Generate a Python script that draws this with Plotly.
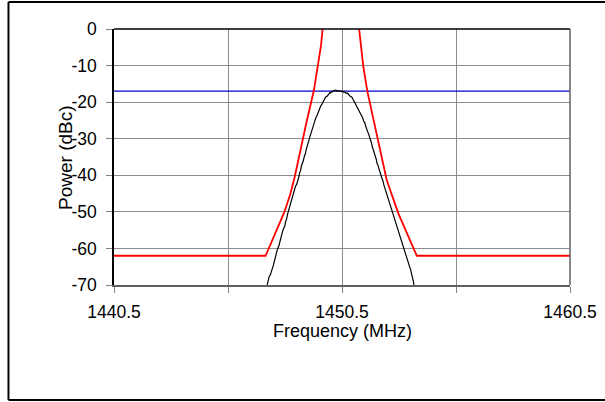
import plotly.graph_objects as go

# Spectrum measurement (MHz, dBc)
spec_freq = [
    1447.20, 1447.24, 1447.27, 1447.31, 1447.35, 1447.40, 1447.44, 1447.49, 1447.53, 1447.57,
    1447.61, 1447.65, 1447.70, 1447.74, 1447.78, 1447.82, 1447.86, 1447.90, 1447.95, 1447.99,
    1448.03, 1448.07, 1448.11, 1448.16, 1448.20, 1448.24, 1448.29, 1448.33, 1448.37, 1448.42,
    1448.46, 1448.51, 1448.55, 1448.60, 1448.64, 1448.68, 1448.72, 1448.76, 1448.80, 1448.85,
    1448.89, 1448.93, 1448.97, 1449.01, 1449.06, 1449.10, 1449.14, 1449.18, 1449.22, 1449.27,
    1449.31, 1449.35, 1449.40, 1449.44, 1449.48, 1449.53, 1449.57, 1449.61, 1449.66, 1449.70,
    1449.74, 1449.78, 1449.83, 1449.87, 1449.91, 1449.96, 1450.00, 1450.05, 1450.09, 1450.14,
    1450.19, 1450.23, 1450.28, 1450.33, 1450.38, 1450.43, 1450.48, 1450.53, 1450.58, 1450.63,
    1450.68, 1450.73, 1450.78, 1450.83, 1450.88, 1450.93, 1450.98, 1451.03, 1451.07, 1451.11,
    1451.15, 1451.20, 1451.24, 1451.28, 1451.33, 1451.37, 1451.41, 1451.45, 1451.50, 1451.54,
    1451.58, 1451.62, 1451.66, 1451.71, 1451.75, 1451.79, 1451.83, 1451.87, 1451.91, 1451.96,
    1452.00, 1452.04, 1452.08, 1452.13, 1452.17, 1452.21, 1452.25, 1452.29, 1452.34, 1452.38,
    1452.42, 1452.46, 1452.51, 1452.55, 1452.60, 1452.64, 1452.68, 1452.73, 1452.77, 1452.82,
    1452.86, 1452.90, 1452.94, 1452.99, 1453.03, 1453.07, 1453.11, 1453.16, 1453.20, 1453.24,
    1453.28, 1453.33, 1453.37, 1453.41, 1453.46, 1453.50, 1453.55, 1453.59, 1453.62, 1453.64,
    1453.66,
]
spec_power = [
    -70.5, -69.0, -68.4, -67.6, -67.3, -66.0, -65.6, -64.6, -63.4, -62.9,
    -61.5, -60.6, -59.7, -59.2, -58.1, -57.0, -56.6, -55.2, -54.4, -53.9,
    -52.6, -52.0, -50.7, -49.6, -49.1, -47.6, -46.9, -45.7, -44.9, -44.1,
    -43.0, -42.5, -41.2, -40.6, -39.4, -38.8, -37.4, -36.9, -36.1, -34.8,
    -34.2, -33.0, -32.3, -31.4, -30.2, -29.3, -28.5, -27.4, -26.9, -25.7,
    -25.1, -24.3, -23.7, -23.0, -22.2, -21.8, -21.0, -20.7, -20.0, -19.4,
    -19.2, -18.6, -18.5, -18.0, -17.9, -17.4, -17.5, -17.1, -17.2, -16.8,
    -16.9, -16.7, -17.0, -16.8, -17.0, -16.9, -17.1, -17.0, -17.3, -17.2,
    -17.6, -17.5, -17.9, -18.0, -18.5, -18.6, -19.2, -19.5, -20.0, -20.6,
    -21.0, -21.5, -22.0, -22.5, -23.4, -23.8, -24.3, -25.2, -25.6, -26.6,
    -27.1, -28.0, -28.6, -29.4, -30.5, -31.1, -32.2, -32.9, -34.0, -34.8,
    -35.6, -36.8, -37.3, -38.4, -39.0, -40.0, -40.8, -41.4, -42.7, -43.5,
    -44.4, -45.5, -46.2, -47.3, -48.0, -48.9, -49.8, -50.6, -51.5, -52.1,
    -53.3, -54.0, -54.9, -55.9, -56.5, -57.6, -58.4, -59.1, -60.2, -60.9,
    -61.9, -62.8, -63.3, -64.2, -64.9, -65.6, -66.8, -67.4, -68.5, -69.3,
    -70.5,
]

# Spectral mask (MHz, dBc)
mask_freq = [1440.5, 1447.15, 1447.97, 1448.22, 1448.42, 1448.66, 1448.95, 1449.27,
             1449.46, 1449.58, 1449.65, 1449.72,
             1451.18, 1451.25, 1451.33, 1451.43, 1451.61, 1452.02, 1452.31, 1452.46,
             1452.97, 1453.34, 1453.64, 1453.78, 1460.5]
mask_power = [-62, -62, -50.1, -45.4, -40.6, -33.5, -25.3, -16.7,
              -9.8, -4.5, 0, 4,
              4, 0, -5.0, -10, -17, -29, -37.2, -41.3,
              -50.4, -55.8, -60.1, -62, -62]

# Reference level
ref_freq = [1440.5, 1460.5]
ref_power = [-17, -17]

x_ticks = [1440.5, 1450.5, 1460.5]
x_tick_labels = ["1440.5", "1450.5", "1460.5"]
y_ticks = [0, -10, -20, -30, -40, -50, -60, -70]
y_tick_labels = ["0", "-10", "-20", "-30", "-40", "-50", "-60", "-70"]

FONT = "Liberation Sans, Arial, sans-serif"
FS = 17.5

fig = go.Figure()
fig.add_trace(go.Scatter(x=ref_freq, y=ref_power, mode="lines",
                         line=dict(color="#0000C8", width=1.3), showlegend=False))
fig.add_trace(go.Scatter(x=spec_freq, y=spec_power, mode="lines",
                         line=dict(color="#000000", width=1.2), showlegend=False))
fig.add_trace(go.Scatter(x=mask_freq, y=mask_power, mode="lines",
                         line=dict(color="#FF0000", width=1.8), showlegend=False))

fig.update_layout(
    width=605, height=402,
    margin=dict(l=114, r=35, t=29, b=117, autoexpand=False),
    paper_bgcolor="white", plot_bgcolor="white",
    font=dict(family=FONT, size=FS, color="black"),
    xaxis=dict(
        range=[1440.5, 1460.5],
        tickvals=x_ticks, ticktext=x_tick_labels,
        ticks="outside", ticklen=6, tickcolor="#808080",
        showgrid=True, gridcolor="#8c8c8c", gridwidth=1,
        minor=dict(tick0=1440.5, dtick=5, showgrid=True, gridcolor="#8c8c8c",
                   gridwidth=1, ticks="outside", ticklen=6, tickcolor="#808080"),
        showline=True, linecolor="#606060", linewidth=1.5,
        zeroline=False, automargin=False,
        ticklabelstandoff=4,
        fixedrange=True,
    ),
    yaxis=dict(
        range=[-70, 0],
        tickvals=y_ticks, ticktext=y_tick_labels,
        ticks="outside", ticklen=6, tickcolor="#808080",
        showgrid=True, gridcolor="#8c8c8c", gridwidth=1,
        showline=True, linecolor="#000000", linewidth=1.5,
        zeroline=False, automargin=False,
        ticklabelstandoff=6,
        fixedrange=True,
    ),
    annotations=[
        dict(text="Frequency (MHz)", xref="paper", yref="paper", x=0.5, y=-0.1797,
             xanchor="center", yanchor="middle", showarrow=False,
             font=dict(size=18, family=FONT)),
        dict(text="Power (dBc)", xref="paper", yref="paper", x=-0.1075, y=0.5,
             xanchor="center", yanchor="middle", textangle=-90, showarrow=False,
             font=dict(size=19, family=FONT)),
    ],
    shapes=[
        # plot-area top and right borders
        dict(type="line", xref="paper", yref="paper", x0=0, x1=1, y0=1, y1=1,
             line=dict(color="#000000", width=1.5)),
        dict(type="line", xref="paper", yref="paper", x0=1, x1=1, y0=0, y1=1,
             line=dict(color="#606060", width=1.5)),
        # outer frame
        dict(type="line", xref="paper", yref="paper", x0=-0.2314, x1=-0.2314,
             y0=-0.4492, y1=1.1055, line=dict(color="#000000", width=2)),
        dict(type="line", xref="paper", yref="paper", x0=-0.2314, x1=1.08,
             y0=1.1055, y1=1.1055, line=dict(color="#000000", width=2)),
        dict(type="line", xref="paper", yref="paper", x0=-0.2314, x1=1.08,
             y0=-0.4492, y1=-0.4492, line=dict(color="#000000", width=2)),
    ],
)

fig.write_html("out.html", config={"displayModeBar": False},
               post_script="document.body.style.margin='0';document.body.style.padding='0';")
